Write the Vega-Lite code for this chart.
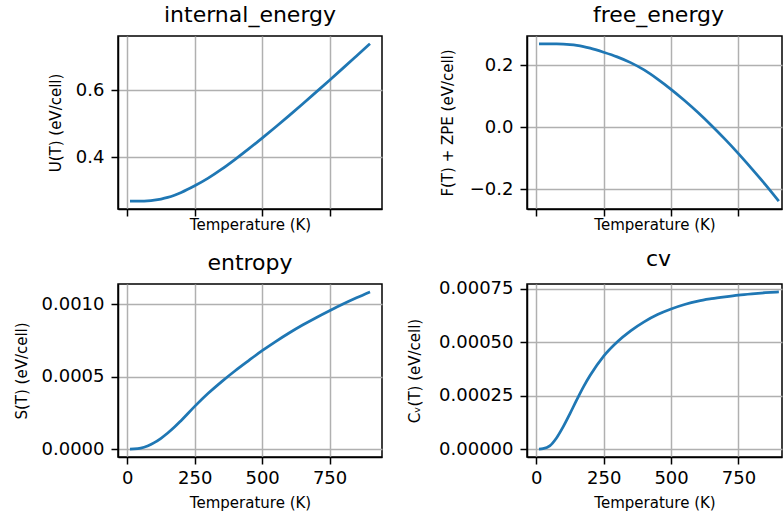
{
  "$schema": "https://vega.github.io/schema/vega-lite/v6.json",
  "padding": {"left": 13, "top": 3, "right": 0, "bottom": 0},
  "background": "white",
  "data": {
    "values": [
      {"T": 10, "U": 0.2697, "F": 0.2690, "S": 0.0, "Cv": 0.0},
      {"T": 25, "U": 0.2697, "F": 0.2690, "S": 0.000001, "Cv": 0.000002},
      {"T": 50, "U": 0.2698, "F": 0.2689, "S": 0.000007, "Cv": 0.000015},
      {"T": 75, "U": 0.2706, "F": 0.2686, "S": 0.000022, "Cv": 0.000052},
      {"T": 100, "U": 0.2726, "F": 0.2679, "S": 0.000045, "Cv": 0.000105},
      {"T": 125, "U": 0.2759, "F": 0.2664, "S": 0.000075, "Cv": 0.000166},
      {"T": 150, "U": 0.2807, "F": 0.2640, "S": 0.000111, "Cv": 0.00023},
      {"T": 175, "U": 0.2873, "F": 0.2603, "S": 0.000152, "Cv": 0.000291},
      {"T": 200, "U": 0.2955, "F": 0.2552, "S": 0.000198, "Cv": 0.000345},
      {"T": 250, "U": 0.3154, "F": 0.2420, "S": 0.000295, "Cv": 0.000435},
      {"T": 300, "U": 0.3383, "F": 0.2270, "S": 0.000385, "Cv": 0.000501},
      {"T": 350, "U": 0.3650, "F": 0.2085, "S": 0.000466, "Cv": 0.000553},
      {"T": 400, "U": 0.3945, "F": 0.1850, "S": 0.000541, "Cv": 0.000595},
      {"T": 450, "U": 0.4255, "F": 0.1555, "S": 0.000611, "Cv": 0.000629},
      {"T": 500, "U": 0.4577, "F": 0.1225, "S": 0.000679, "Cv": 0.000655},
      {"T": 550, "U": 0.4908, "F": 0.0863, "S": 0.000742, "Cv": 0.000676},
      {"T": 600, "U": 0.5248, "F": 0.0476, "S": 0.000801, "Cv": 0.000692},
      {"T": 650, "U": 0.5595, "F": 0.0060, "S": 0.000856, "Cv": 0.000703},
      {"T": 700, "U": 0.5948, "F": -0.0380, "S": 0.000907, "Cv": 0.000712},
      {"T": 750, "U": 0.6305, "F": -0.0845, "S": 0.000955, "Cv": 0.00072},
      {"T": 800, "U": 0.6665, "F": -0.1335, "S": 0.001001, "Cv": 0.000726},
      {"T": 850, "U": 0.7028, "F": -0.1842, "S": 0.001044, "Cv": 0.000731},
      {"T": 900, "U": 0.7392, "F": -0.2377, "S": 0.001085, "Cv": 0.000735}
    ]
  },
  "columns": 2,
  "bounds": "flush",
  "spacing": {"row": 75, "column": 145},
  "concat": [
    {
      "title": "internal_energy",
      "width": 264,
      "height": 173,
      "mark": {"type": "line", "interpolate": "monotone"},
      "encoding": {
        "x": {
          "field": "T", "type": "quantitative",
          "scale": {"domain": [-34.5, 944.5], "nice": false, "zero": false},
          "axis": {"values": [0, 250, 500, 750], "labels": false, "title": "Temperature (K)", "titlePadding": 1}
        },
        "y": {
          "field": "U", "type": "quantitative",
          "scale": {"domain": [0.2462, 0.7623], "nice": false, "zero": false},
          "axis": {"values": [0.4, 0.6], "format": ".1f", "title": "U(T) (eV/cell)", "titlePadding": 12}
        }
      }
    },
    {
      "title": {"text": "free_energy", "dx": 4},
      "width": 255,
      "height": 173,
      "mark": {"type": "line", "interpolate": "monotone"},
      "encoding": {
        "x": {
          "field": "T", "type": "quantitative",
          "scale": {"domain": [-34.5, 911.7], "nice": false, "zero": false},
          "axis": {"values": [0, 250, 500, 750], "labels": false, "title": "Temperature (K)", "titlePadding": 1}
        },
        "y": {
          "field": "F", "type": "quantitative",
          "scale": {"domain": [-0.263, 0.2943], "nice": false, "zero": false},
          "axis": {"values": [-0.2, 0.0, 0.2], "format": ".1f", "title": "F(T) + ZPE (eV/cell)", "titlePadding": 14}
        }
      }
    },
    {
      "title": "entropy",
      "width": 264,
      "height": 173,
      "mark": {"type": "line", "interpolate": "monotone"},
      "encoding": {
        "x": {
          "field": "T", "type": "quantitative",
          "scale": {"domain": [-34.5, 944.5], "nice": false, "zero": false},
          "axis": {"values": [0, 250, 500, 750], "format": "d", "title": "Temperature (K)", "labelPadding": 5, "titlePadding": 8}
        },
        "y": {
          "field": "S", "type": "quantitative",
          "scale": {"domain": [-0.0000543, 0.0011393], "nice": false, "zero": false},
          "axis": {"values": [0, 0.0005, 0.001], "format": ".4f", "title": "S(T) (eV/cell)", "titlePadding": 12}
        }
      }
    },
    {
      "title": {"text": "cv", "dx": 4},
      "width": 255,
      "height": 173,
      "mark": {"type": "line", "interpolate": "monotone"},
      "encoding": {
        "x": {
          "field": "T", "type": "quantitative",
          "scale": {"domain": [-34.5, 911.7], "nice": false, "zero": false},
          "axis": {"values": [0, 250, 500, 750], "format": "d", "title": "Temperature (K)", "labelPadding": 5, "titlePadding": 8}
        },
        "y": {
          "field": "Cv", "type": "quantitative",
          "scale": {"domain": [-0.0000368, 0.0007718], "nice": false, "zero": false},
          "axis": {"values": [0, 0.00025, 0.0005, 0.00075], "format": ".5f", "title": "Cᵥ(T) (eV/cell)", "titlePadding": 16}
        }
      }
    }
  ],
  "config": {
    "font": "DejaVu Sans",
    "view": {"stroke": "black", "strokeWidth": 1.5},
    "axis": {
      "domainColor": "black",
      "domainWidth": 1.5,
      "tickColor": "black",
      "tickWidth": 1.5,
      "tickSize": 7,
      "labelFont": "DejaVu Sans",
      "labelFontSize": 18,
      "labelColor": "black",
      "labelPadding": 7,
      "labelFlush": false,
      "labelOverlap": false,
      "titleFont": "DejaVu Sans",
      "titleFontSize": 15,
      "titleFontWeight": "normal",
      "titleColor": "black",
      "titlePadding": 10,
      "gridColor": "#b0b0b0",
      "gridWidth": 1.5,
      "gridOpacity": 1
    },
    "title": {
      "font": "DejaVu Sans",
      "fontSize": 22,
      "fontWeight": "normal",
      "color": "black",
      "baseline": "alphabetic",
      "offset": 9
    },
    "line": {"color": "#1f77b4", "strokeWidth": 2.75}
  }
}
